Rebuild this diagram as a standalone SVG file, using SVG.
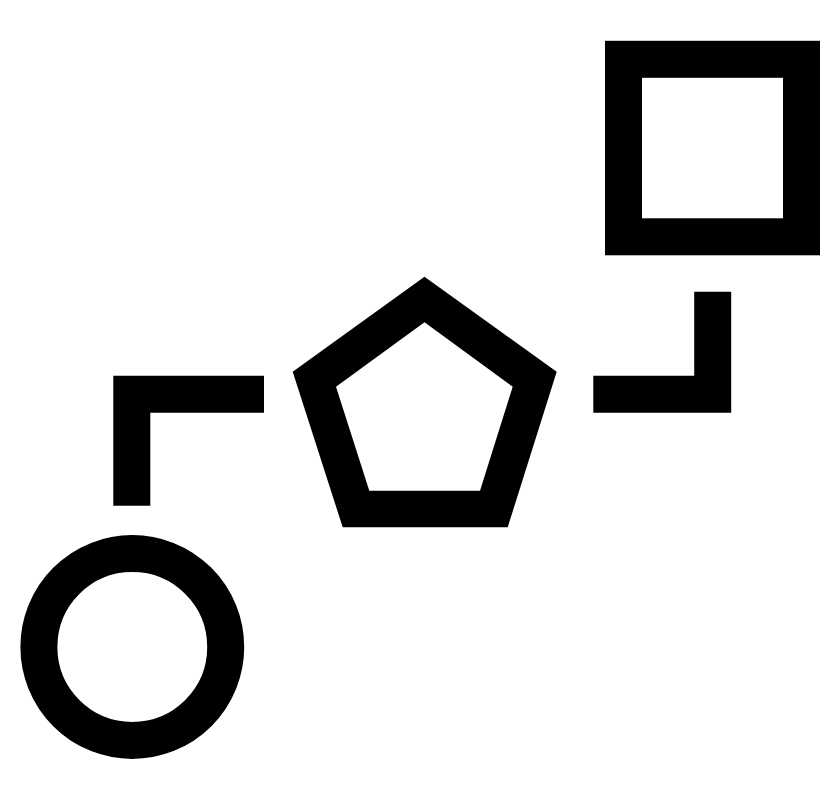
<svg xmlns="http://www.w3.org/2000/svg" width="840" height="796" viewBox="0 0 840 796">
<style>
.shape{fill:none;stroke:#000;stroke-width:37;stroke-linejoin:miter;stroke-miterlimit:10}
.conn{fill:none;stroke:#000;stroke-width:37;stroke-linecap:butt;stroke-linejoin:miter}
</style>
<rect width="840" height="796" fill="#fff"/>
<g id="square">
<rect class="shape" x="623.5" y="59.3" width="178" height="177.5"/>
</g>
<g id="pentagon">
<path fill="#000" fill-rule="evenodd" d="M424.5,276.7 L556.7,371.7 L507.7,527.3 L342.7,527.3 L292.7,371.7 Z M424.5,322.3 L336,386.7 L369.3,490.7 L480,490.7 L512.7,386.7 Z"/>
</g>
<g id="circle">
<circle class="shape" cx="132.3" cy="647" r="93.4"/>
</g>
<g id="connectors">
<polyline class="conn" points="264,394.2 131.8,394.2 131.8,505.7"/>
<polyline class="conn" points="593.3,394.2 712.7,394.2 712.7,291.7"/>
</g>
</svg>
